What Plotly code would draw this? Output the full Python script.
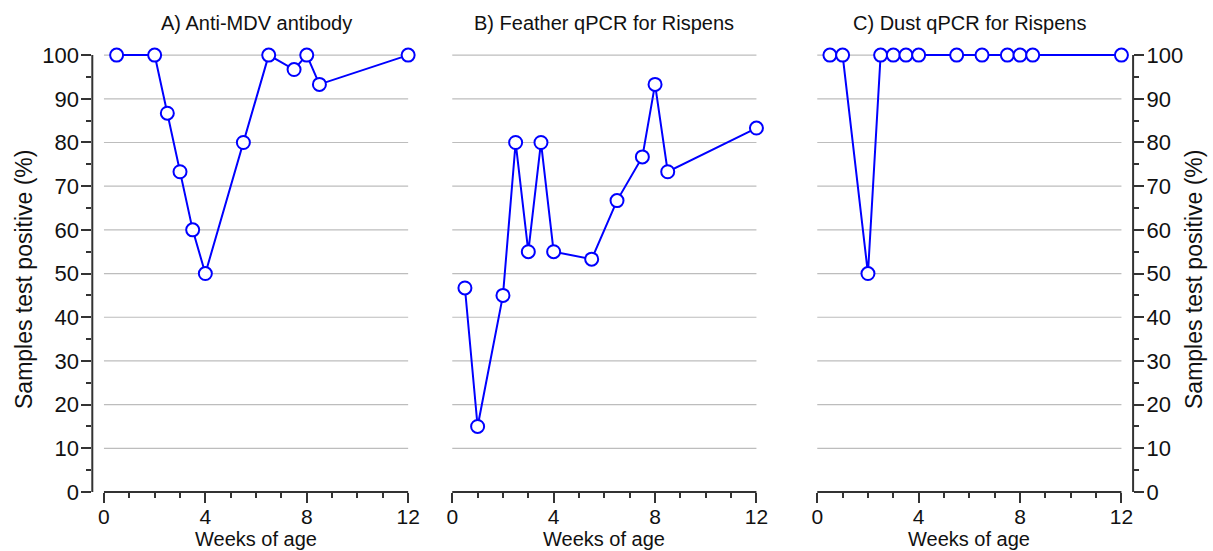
import plotly.graph_objects as go

# ---- data ----
weeks_A = [0.5, 2, 2.5, 3, 3.5, 4, 5.5, 6.5, 7.5, 8, 8.5, 12]
pct_A = [100, 100, 86.7, 73.3, 60, 50, 80, 100, 96.7, 100, 93.3, 100]

weeks_B = [0.5, 1, 2, 2.5, 3, 3.5, 4, 5.5, 6.5, 7.5, 8, 8.5, 12]
pct_B = [46.7, 15, 45, 80, 55, 80, 55, 53.3, 66.7, 76.7, 93.3, 73.3, 83.3]

weeks_C = [0.5, 1, 2, 2.5, 3, 3.5, 4, 5.5, 6.5, 7.5, 8, 8.5, 12]
pct_C = [100, 100, 50, 100, 100, 100, 100, 100, 100, 100, 100, 100, 100]

titles = ["A) Anti-MDV antibody", "B) Feather qPCR for Rispens", "C) Dust qPCR for Rispens"]
x_ticks = [0, 4, 8, 12]
y_ticks = [0, 10, 20, 30, 40, 50, 60, 70, 80, 90, 100]
grid_vals = [10, 20, 30, 40, 50, 60, 70, 80, 90, 100]
x_title = "Weeks of age"
y_title = "Samples test positive (%)"

X_MIN, X_MAX = 0, 12
Y_MIN, Y_MAX = 0, 100

# ---- layout constants ----
W, H = 1213, 551
FONT = "Liberation Sans, Arial, Helvetica, sans-serif"
BLUE = "#0000ff"
AXC = "#333333"
GRIDC = "#bdbdbd"

domains_px = [(92.3, 419.8), (440.6, 768.1), (805.6, 1133.1)]
domains = [(a / W, b / W) for a, b in domains_px]
x_range = [-0.46, 12.46]
y_range = [0, 103]

fig = go.Figure()
series = [(weeks_A, pct_A), (weeks_B, pct_B), (weeks_C, pct_C)]
for i, (wx, py) in enumerate(series):
    xa = "x" if i == 0 else f"x{i+1}"
    ya = "y" if i == 0 else f"y{i+1}"
    fig.add_trace(go.Scatter(
        x=wx, y=py, xaxis=xa, yaxis=ya, mode="lines+markers",
        line=dict(color=BLUE, width=2),
        marker=dict(symbol="circle", size=13, color="white",
                    line=dict(color=BLUE, width=2)),
        cliponaxis=False, showlegend=False, hoverinfo="x+y"))

shapes = []
annotations = []
for i in range(3):
    suf = "" if i == 0 else str(i + 1)
    xk = "xaxis" + suf
    yk = "yaxis" + suf
    fig.layout[xk] = dict(
        domain=list(domains[i]), range=x_range, anchor="y" + suf,
        showgrid=False, zeroline=False, showline=False,
        tickmode="array", tickvals=x_ticks, ticks="outside", ticklen=10,
        tickwidth=1.5, tickcolor=AXC, ticklabelstandoff=-4,
        tickfont=dict(family=FONT, size=21, color="#111111"),
        minor=dict(tickmode="linear", tick0=0, dtick=1, ticks="outside",
                   ticklen=5, tickwidth=1.5, tickcolor=AXC, showgrid=False),
        fixedrange=True)
    yax = dict(
        domain=[0, 1], range=y_range, anchor="x" + suf,
        showgrid=False, zeroline=False, showline=False, fixedrange=True)
    if i == 1:
        yax.update(showticklabels=False, ticks="")
    else:
        yax.update(
            side="left" if i == 0 else "right",
            tickmode="array", tickvals=y_ticks, ticks="outside", ticklen=10,
            tickwidth=1.5, tickcolor=AXC, ticklabelstandoff=-2,
            tickfont=dict(family=FONT, size=22, color="#111111"),
            minor=dict(tickmode="linear", tick0=0, dtick=5, ticks="outside",
                       ticklen=5, tickwidth=1.5, tickcolor=AXC, showgrid=False))
    fig.layout[yk] = yax

    xr = "x" + suf
    yr = "y" + suf
    # gridlines spanning the data range only
    for g in grid_vals:
        shapes.append(dict(type="line", xref=xr, yref=yr, x0=X_MIN, x1=X_MAX,
                           y0=g, y1=g, line=dict(color=GRIDC, width=1.2),
                           layer="below"))
    # x axis line
    shapes.append(dict(type="line", xref=xr, yref=yr + " domain", x0=X_MIN, x1=X_MAX,
                       y0=0, y1=0, line=dict(color=AXC, width=2), layer="above"))
    # y axis line
    if i != 1:
        xd = 0 if i == 0 else 1
        shapes.append(dict(type="line", xref=xr + " domain", yref=yr, x0=xd, x1=xd,
                           y0=Y_MIN, y1=Y_MAX, line=dict(color=AXC, width=2),
                           layer="above"))
    # panel title
    annotations.append(dict(text=titles[i], xref=xr + " domain", yref="paper",
                            x=0.5, y=(492 - 23) / 450, xanchor="center",
                            yanchor="middle", showarrow=False,
                            font=dict(family=FONT, size=20, color="#111111")))
    # x title
    annotations.append(dict(text=x_title, xref=xr + " domain", yref="paper",
                            x=0.5, y=(492 - 551) / 450, xanchor="center",
                            yanchor="bottom", showarrow=False, borderpad=0,
                            font=dict(family=FONT, size=20, color="#111111")))

# y titles
for px in (24, 1194):
    annotations.append(dict(text=y_title, xref="paper", yref="paper",
                            x=px / W, y=(492 - 280) / 450, xanchor="center",
                            yanchor="middle", textangle=-90, showarrow=False,
                            font=dict(family=FONT, size=23, color="#111111")))

fig.update_layout(
    width=W, height=H, autosize=False,
    margin=dict(l=0, r=0, t=42, b=59, pad=0),
    paper_bgcolor="white", plot_bgcolor="white",
    shapes=shapes, annotations=annotations, showlegend=False)

fig.write_html("out.html", config={"displayModeBar": False})
